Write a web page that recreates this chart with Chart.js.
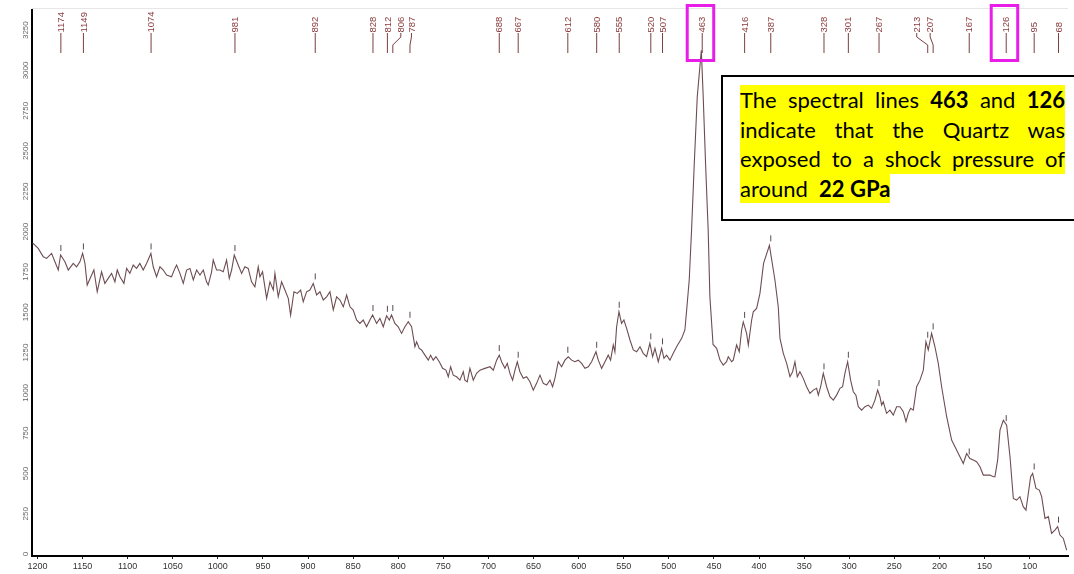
<!DOCTYPE html>
<html>
<head>
<meta charset="utf-8">
<script src="https://cdn.jsdelivr.net/npm/chart.js@4"></script>
<style>
html,body{margin:0;padding:0;background:#fff;}
#wrap{position:relative;width:1074px;height:574px;overflow:hidden;background:#fff;}
canvas{display:block;}
#note{position:absolute;left:721px;top:75px;width:380px;height:142px;border:2px solid #000;background:#fff;}
.ln{position:absolute;left:17px;width:325px;height:29.5px;line-height:29.5px;font-family:Lato,"Open Sans",sans-serif;font-size:22px;color:#000;background:#ffff00;text-align:justify;text-align-last:justify;white-space:nowrap;}
.ln b{font-weight:700;}
.last{width:auto;text-align:left;text-align-last:left;}
</style>
</head>
<body>
<div id="wrap">
<canvas id="c" width="1074" height="574"></canvas>
<div id="note">
<div class="ln" style="top:8px">The spectral lines <b>463</b> and <b>126</b></div>
<div class="ln" style="top:37.5px">indicate that the Quartz was</div>
<div class="ln" style="top:67px">exposed to a shock pressure of</div>
<div class="ln last" style="top:96.5px">around&nbsp; <b>22 GPa</b></div>
</div>
</div>
<script>
// Raman shift (cm-1) and intensity
const wavenumbers = [
1205.4,1199.1,1193.5,1189.8,1184.3,1180.6,1176.9,1174.3,1169.5,1165.8,1160.3,1156.6,1152.9,1149.9,1147.3,1144.8,1139.9,1137.4,1133.7,1128.9,
1125.2,1121.5,1117.8,1114.1,1111.5,1108.5,1104.1,1101.1,1097.5,1093.8,1090.1,1086.4,1082.7,1079,1074.2,1071.6,1067.9,1064.2,1060.5,1056.8,
1051.3,1047.6,1045.7,1042,1038.3,1034.6,1030.9,1027.2,1023.5,1019.8,1016.1,1012.5,1010.6,1006.9,1005.1,1001.4,997.7,994,990.3,987.3,
984.7,981.8,977.4,973.6,970,966.3,962.6,958.9,955.2,953.3,950.4,945.9,942.2,938.5,936.7,933,929.3,925.6,921.9,919.3,
915.6,911.9,908.2,905.3,901.6,897.9,894.2,890.5,886.8,883.1,879.4,875.7,872,868.3,864.6,860.9,857.2,853.5,849.9,846.2,
842.5,838.8,835.1,831.4,828.4,824,820.3,816.6,812.9,809.9,807.4,803.7,800,796.3,792.6,788.9,785.2,781.5,779.6,776.7,
774.1,770.4,766.7,764.1,761.2,758.2,754.5,750.8,747.1,744.5,741.9,739,735.3,731.6,727.9,726.1,723.5,720.5,716.8,713.1,
709.4,703.9,698.3,694.6,690.9,688,685.4,681.7,679.1,676.2,673.2,670.6,668,665.1,661.4,657.7,654,650.3,646.6,642.9,
639.2,635.5,631.8,628.9,626.3,622.6,618.9,615.2,611.5,607.8,604.1,600.4,596.7,593,589.3,585.6,580.8,578.2,574.5,570.8,
567.2,564.6,561.6,559.8,557.9,555.3,552.4,549.8,546.8,543.1,539.4,535.7,532,528.4,524.7,521,518,515.4,511.7,508,
505.4,502.5,498.8,495.1,491.4,485.8,482.2,480,477.4,474.8,471.8,468.5,464,461.9,459.3,456.4,454.5,451,447,443.3,
439.7,436,434.1,430.4,428.6,424.9,421.9,419.3,417.5,413.8,411.9,408.2,406.4,402.7,399,395,388.5,382.4,378.7,376.8,
373.1,369.4,365.7,362.8,360.2,357.6,354.7,351,347.3,343.6,339.9,336.2,334.3,331.7,328.8,325.1,321.4,317.7,314,310.3,
307.4,304.8,301.8,298.5,295.5,292.6,290,286.3,282.6,278.9,275.2,271.5,268.5,266,264.1,262.3,258.6,254.9,251.2,247.5,
243.8,240.1,237.1,234.6,232,229,225.3,221.6,217.9,215,212.4,208.7,205,201.3,197.6,192,186.5,181,177.3,173.6,
169.9,166.2,162.5,158.8,155.1,151.4,147.7,144,140.3,138.5,135.5,132.9,129.2,125.5,121.8,118.1,114.4,110.8,107.1,104.1,
101.5,98.9,96.7,93,89.3,86.7,83,79.3,75.7,72,69,66.4,62.7,59
];
const intensity = [
1931,1896,1844,1834,1865,1813,1762,1855,1813,1762,1803,1782,1813,1865,1803,1669,1731,1762,1627,1751,
1679,1710,1741,1689,1762,1720,1679,1772,1741,1793,1772,1803,1762,1803,1865,1782,1720,1782,1762,1731,
1720,1772,1793,1741,1679,1762,1772,1700,1762,1731,1762,1689,1669,1751,1824,1762,1762,1751,1824,1710,
1762,1855,1793,1741,1782,1772,1689,1658,1782,1720,1751,1586,1689,1638,1741,1596,1689,1638,1586,1483,
1627,1617,1638,1565,1627,1638,1679,1607,1627,1576,1596,1627,1514,1596,1576,1534,1607,1534,1514,1452,
1431,1452,1410,1452,1483,1431,1462,1410,1478,1452,1483,1431,1410,1369,1410,1441,1410,1286,1317,1276,
1266,1234,1203,1234,1203,1224,1193,1152,1141,1100,1162,1110,1100,1079,1131,1079,1069,1152,1079,1121,
1141,1152,1162,1141,1203,1234,1193,1152,1183,1121,1079,1141,1193,1131,1090,1100,1069,1017,1059,1110,
1059,1048,1079,1038,1090,1193,1162,1203,1224,1203,1193,1203,1183,1152,1162,1193,1255,1203,1152,1193,
1234,1203,1297,1255,1410,1503,1431,1452,1400,1328,1266,1255,1286,1245,1224,1307,1224,1276,1193,1276,
1214,1234,1203,1245,1286,1338,1390,1530,1700,2010,2423,2837,3125,2837,2423,2010,1597,1300,1276,1203,
1172,1193,1224,1193,1203,1297,1255,1390,1440,1369,1297,1452,1503,1524,1617,1803,1915,1700,1534,1338,
1245,1183,1100,1131,1193,1100,1131,1090,1038,997,1017,1028,986,1038,1121,1038,976,955,986,1028,
1038,1121,1193,1079,1007,986,914,893,914,924,904,955,1017,976,924,945,873,893,862,914,
914,883,821,873,904,893,1038,1079,1141,1317,1266,1369,1286,1183,1038,852,707,645,604,562,
624,593,583,573,542,490,490,490,480,480,583,769,830,800,604,345,335,356,294,273,
376,480,500,407,397,356,221,232,128,149,170,118,97,25
];
// Assigned band positions printed along the top
const peakLabels = [1174,1149,1074,981,892,828,812,806,787,688,667,612,580,555,520,507,463,416,387,328,301,267,213,207,167,126,95,68];
// Bands framed in magenta
const highlightedPeaks = [463,126];
// Axis tick values
const xTickValues = [1200,1150,1100,1050,1000,950,900,850,800,750,700,650,600,550,500,450,400,350,300,250,200,150,100];
const yTickValues = [0,250,500,750,1000,1250,1500,1750,2000,2250,2500,2750,3000,3250];

// label leader shifts (style only, px)
const labelShift = {806: 8, 787: 1.5, 213: -11, 207: -3};

function curveMaxNear(x, win) {
  let best = null;
  for (let i = 0; i < wavenumbers.length; i++) {
    if (Math.abs(wavenumbers[i] - x) <= win) {
      if (best === null || intensity[i] > best) best = intensity[i];
    }
  }
  if (best !== null) return best;
  for (let i = 0; i < wavenumbers.length - 1; i++) {
    const a = wavenumbers[i], b = wavenumbers[i + 1];
    if ((a - x) * (b - x) <= 0) {
      const t = (x - a) / (b - a);
      return intensity[i] + t * (intensity[i + 1] - intensity[i]);
    }
  }
  return 0;
}

const decorPlugin = {
  id: 'decor',
  afterDatasetsDraw(chart) {
    const ctx = chart.ctx;
    const xs = chart.scales.x, ys = chart.scales.y;
    const area = chart.chartArea;
    ctx.save();
    // faint top frame line
    ctx.strokeStyle = '#e6e6e6';
    ctx.lineWidth = 1;
    ctx.beginPath();
    ctx.moveTo(area.left, area.top - 1.5);
    ctx.lineTo(area.right, area.top - 1.5);
    ctx.stroke();

    const lineTop = area.top + 23, lineBot = area.top + 43;
    peakLabels.forEach(p => {
      const px = xs.getPixelForValue(p);
      const sh = labelShift[p] || 0;
      const lx = px + sh;
      ctx.strokeStyle = '#7b3f40';
      ctx.lineWidth = 1;
      ctx.beginPath();
      if (sh !== 0) {
        ctx.moveTo(px, lineBot);
        ctx.lineTo(px, lineTop + 12);
        ctx.lineTo(lx, lineTop + 4);
        ctx.lineTo(lx, lineTop);
      } else {
        ctx.moveTo(px, lineBot);
        ctx.lineTo(px, lineTop);
      }
      ctx.stroke();
      ctx.save();
      ctx.translate(lx, lineTop);
      ctx.rotate(-Math.PI / 2);
      ctx.fillStyle = '#8a3b3d';
      ctx.font = '9.5px "Liberation Sans", Arial, sans-serif';
      ctx.textAlign = 'left';
      ctx.textBaseline = 'middle';
      ctx.fillText(String(p), 0.5, 0.5);
      ctx.restore();
      const v = curveMaxNear(p, 2.6);
      const cy = ys.getPixelForValue(v);
      if (cy - 10 > lineBot + 6) {
        ctx.strokeStyle = '#5a4a4c';
        ctx.beginPath();
        ctx.moveTo(px, cy - 10);
        ctx.lineTo(px, cy - 4);
        ctx.stroke();
      }
    });

    ctx.strokeStyle = '#e81ee8';
    ctx.lineWidth = 3;
    highlightedPeaks.forEach(p => {
      const px = xs.getPixelForValue(p);
      ctx.strokeRect(px - 15, area.top - 4.5, 26.5, 55);
    });
    ctx.restore();
  }
};

new Chart(document.getElementById('c'), {
  type: 'line',
  data: {
    datasets: [{
      data: wavenumbers.map((w, i) => ({x: w, y: intensity[i]})),
      borderColor: '#6e4d52',
      borderWidth: 1.1,
      pointRadius: 0,
      tension: 0,
      fill: false
    }]
  },
  options: {
    responsive: false,
    animation: false,
    devicePixelRatio: 1,
    layout: {padding: {top: 10, right: 6, bottom: 0, left: 0}},
    plugins: {legend: {display: false}, tooltip: {enabled: false}},
    scales: {
      x: {
        type: 'linear',
        reverse: true,
        min: 57.5,
        max: 1206,
        afterBuildTicks: s => { s.ticks = xTickValues.map(v => ({value: v})); },
        afterFit: s => { s.height = 18; },
        border: {display: true, color: '#000', width: 2},
        grid: {display: true, drawOnChartArea: false, drawTicks: true, tickLength: 3, color: '#222'},
        ticks: {color: '#333', font: {size: 9, family: '"Liberation Sans", Arial, sans-serif'}, padding: 2, maxRotation: 0, autoSkip: false,
                callback: v => String(v)}
      },
      y: {
        type: 'linear',
        min: -12,
        max: 3375,
        afterBuildTicks: s => { s.ticks = yTickValues.map(v => ({value: v})); },
        afterFit: s => { s.width = 32; },
        border: {display: true, color: '#000', width: 2},
        grid: {display: false, drawTicks: false},
        ticks: {color: '#666', font: {size: 8, family: '"Liberation Sans", Arial, sans-serif'}, padding: -3, minRotation: 90, maxRotation: 90, crossAlign: 'center', autoSkip: false,
                callback: v => String(v)}
      }
    }
  },
  plugins: [decorPlugin]
});
</script>
</body>
</html>
